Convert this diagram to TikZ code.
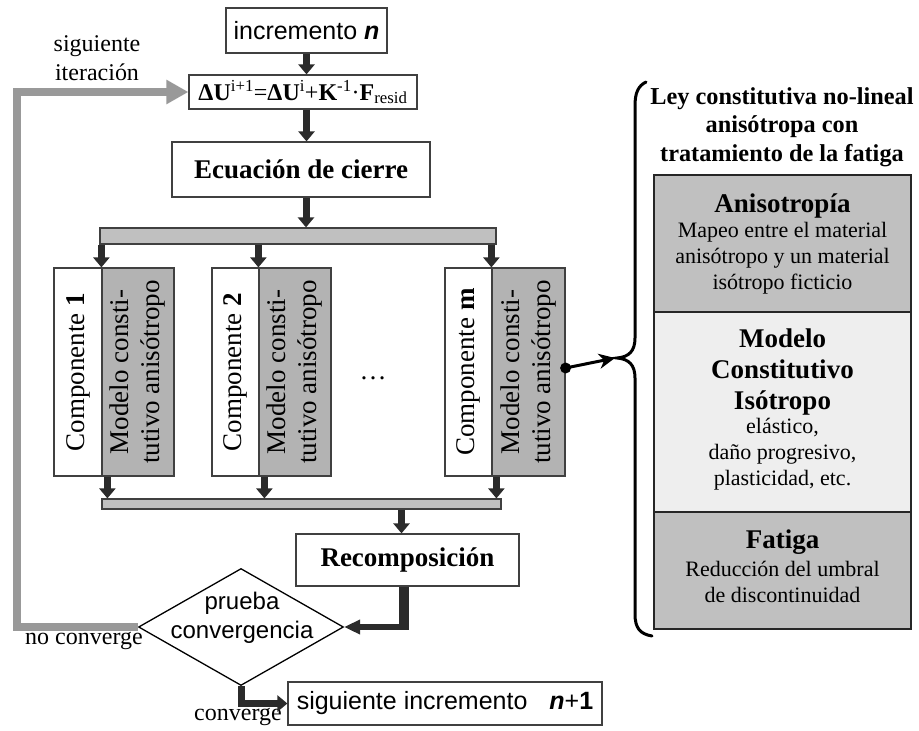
\documentclass[tikz,border=0pt]{standalone}
\usepackage{fontspec}
\setmainfont{Liberation Serif}
\setsansfont{Liberation Sans}
\usetikzlibrary{arrows.meta,shapes.geometric,calc}
\definecolor{arrowc}{HTML}{2B2B2B}
\definecolor{boxc}{HTML}{404040}
\definecolor{barfill}{HTML}{C0C0C0}
\definecolor{modfill}{HTML}{B3B3B3}
\definecolor{lightfill}{HTML}{EEEEEE}
\definecolor{fbc}{HTML}{999999}
\newcommand{\sanstf}{\sffamily\fontsize{25}{29}\selectfont}
\newcommand{\sansdia}{\sffamily\fontsize{24}{29}\selectfont}
\newcommand{\sertf}{\fontsize{24}{29}\selectfont}
\newcommand{\serbig}{\fontsize{27}{31}\selectfont}
\newcommand{\panttl}{\bfseries\fontsize{27}{31}\selectfont}
\begin{document}
\begin{tikzpicture}[x=1pt,y=-1pt,
  box/.style={draw=boxc, line width=1.2pt, fill=white, inner sep=0pt},
  graybox/.style={draw=boxc, line width=1.2pt, fill=modfill, inner sep=0pt},
  bar/.style={draw=boxc, line width=1.2pt, fill=barfill, inner sep=0pt},
  sec/.style={draw=black!85, line width=1.8pt, inner sep=0pt},
  darr/.style={draw=arrowc, line width=7pt, line join=miter, -{Triangle[length=10pt,width=16pt]}},
  thinarr/.style={draw=arrowc, line width=6pt, -{Triangle[length=16pt,width=14pt]}},
  shaft/.style={draw=arrowc, line width=10pt},
  fbarr/.style={draw=fbc, line width=8pt, line join=miter, -{Triangle[length=22pt,width=23pt]}},
  blkarr/.style={draw=black, line width=3pt, -{Stealth[length=16pt,width=15pt,inset=5pt]}},
  bracel/.style={draw=black, line width=3pt, line cap=round},
  rotl/.style={rotate=90, font=\serbig, align=center, inner sep=0pt}]
\useasboundingbox (0,0) rectangle (919,731);

% top column
\node[box, minimum width=161, minimum height=45, font=\sanstf] (inc) at (306.5,30.5) {incremento \textbf{\textit{n}}};
\node[box, minimum width=228, minimum height=34, font=\fontsize{24}{24}\selectfont] (du) at (303,92)
  {\textbf{ΔU}\textsuperscript{i+1}=\textbf{ΔU}\textsuperscript{i}+\textbf{K}\textsuperscript{-1}·\textbf{F}\textsubscript{resid}};
\node[box, minimum width=258, minimum height=55, font=\bfseries\serbig] (eq) at (301,169.5) {Ecuación de cierre};
\node[bar, minimum width=396, minimum height=16] (bar1) at (298,236) {};

% components
\node[box, minimum width=48, minimum height=208] (c1w) at (78,372) {};
\node[graybox, minimum width=72, minimum height=208] (c1g) at (138,372) {};
\node[box, minimum width=47, minimum height=208] (c2w) at (235.5,372) {};
\node[graybox, minimum width=72, minimum height=208] (c2g) at (295,372) {};
\node[box, minimum width=47, minimum height=208] (cmw) at (468.5,372) {};
\node[graybox, minimum width=73, minimum height=208] (cmg) at (528.5,372) {};
\node[rotl] (c1t) at (c1w.center) {Componente \textbf{1}};
\node[rotl] (c1m) at (c1g.center) {Modelo consti-\\tutivo anisótropo};
\node[rotl] (c2t) at (c2w.center) {Componente \textbf{2}};
\node[rotl] (c2m) at (c2g.center) {Modelo consti-\\tutivo anisótropo};
\node[rotl] (cmt) at (cmw.center) {Componente \textbf{m}};
\node[rotl] (cmm) at (cmg.center) {Modelo consti-\\tutivo anisótropo};
\node[font=\serbig] (dots) at (373,378) {…};

\node[bar, minimum width=399, minimum height=10] (bar2) at (301.5,504) {};
\node[box, minimum width=223, minimum height=52, font=\bfseries\serbig] (rec) at (407.5,560) {Recomposición};

% decision
\node[draw=black, line width=1.3pt, diamond, minimum width=205, minimum height=117, inner sep=0pt] (dia) at (241,627) {};
\node[font=\sansdia, align=center] (diat) at (242,618) {prueba\\convergencia};
\node[box, minimum width=314, minimum height=43, font=\sanstf] (nxt) at (445,703.5)
  {siguiente incremento\hspace{0.6em} \textbf{\textit{n}}+\textbf{1}};

% labels
\node[font=\sertf, align=center] (sigit) at (97,58) {siguiente\\iteración};
\node[font=\sertf] (noconv) at (84,641) {no converge};
\node[font=\sertf] (conv) at (238,717) {converge};

% dark arrows
\draw[darr] (inc.south) -- (inc.south |- du.north);
\draw[darr] (inc.south |- du.south) -- (inc.south |- eq.north);
\draw[darr] ([xshift=5pt]eq.south) -- ([xshift=5pt]eq.south |- bar1.north);
\draw[darr] (c1g.north west |- bar1.south) -- (c1g.north west);
\draw[darr] (c2g.north west |- bar1.south) -- (c2g.north west);
\draw[darr] (cmg.north west |- bar1.south) -- (cmg.north west);
\draw[darr] ([xshift=6pt]c1g.south west) -- ([xshift=6pt]c1g.south west |- bar2.north);
\draw[darr] ([xshift=6pt]c2g.south west) -- ([xshift=6pt]c2g.south west |- bar2.north);
\draw[darr] ([xshift=5pt]cmg.south west) -- ([xshift=5pt]cmg.south west |- bar2.north);
\draw[darr] ([xshift=-6pt]rec.north |- bar2.south) -- ([xshift=-6pt]rec.north);
\coordinate (rcorner) at ([xshift=-4pt]rec.south |- dia.east);
\draw[shaft] ([xshift=-4pt]rec.south) -- ([yshift=-3pt]rcorner);
\draw[thinarr] ([xshift=5pt]rcorner) -- (dia.east);
\draw[darr] (dia.south) |- (nxt.west);

% feedback
\coordinate (fbx) at (17,627);
\draw[fbarr] (dia.west) -- (fbx) |- (du.west);

% right panel
\node[font=\bfseries\fontsize{24.3}{28.5}\selectfont, align=center] (title) at (782,127)
  {Ley constitutiva no-lineal\\anisótropa con\\tratamiento de la fatiga};
\node[sec, fill=barfill, minimum width=257, minimum height=137] (anis) at (782.5,243.5) {};
\node[sec, fill=lightfill, minimum width=257, minimum height=200] (mod) at (782.5,412) {};
\node[sec, fill=barfill, minimum width=257, minimum height=117] (fat) at (782.5,570.5) {};
\node[font=\fontsize{22}{26}\selectfont, align=center] (anist) at (anis.center)
  {{\panttl Anisotropía}\\[-1pt]Mapeo entre el material\\anisótropo y un material\\isótropo ficticio};
\node[font=\fontsize{22}{26}\selectfont, align=center] (modt) at ([yshift=3pt]mod.center)
  {{\panttl Modelo}\\[5pt]{\panttl Constitutivo}\\[5pt]{\panttl Isótropo}\\[-2pt]elástico,\\daño progresivo,\\plasticidad, etc.};
\node[font=\fontsize{22}{26}\selectfont, align=center] (fatt) at ([yshift=4pt]fat.center)
  {{\panttl Fatiga}\\[2pt]Reducción del umbral\\de discontinuidad};

% brace and link
\draw[bracel] (646,82) .. controls (638,86) and (635,93) .. (635,106) -- (635,338)
  .. controls (635,351) and (629,357) .. (617,358)
  .. controls (629,359) and (635,365) .. (635,378) -- (635,614)
  .. controls (635,628) and (640,634) .. (652,636);
\coordinate (btip) at (615,358);
\node[circle, fill=black, inner sep=0pt, minimum size=11pt] (dot) at ([yshift=4pt]cmg.east) {};
\draw[blkarr] (dot.center) -- (btip);
\end{tikzpicture}
\end{document}
